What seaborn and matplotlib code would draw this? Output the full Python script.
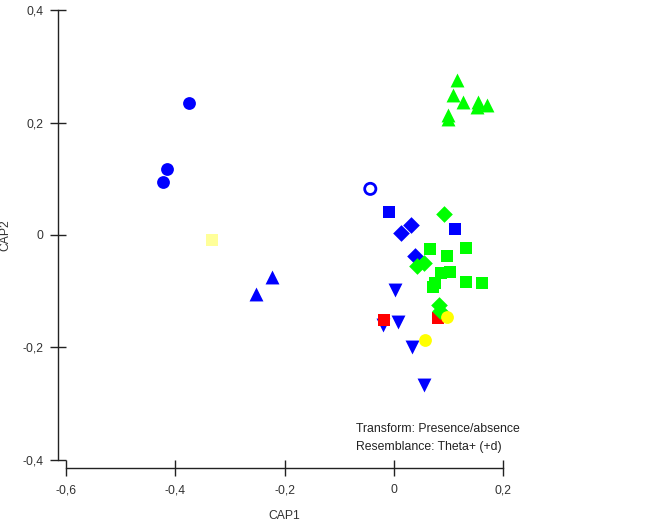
import matplotlib
matplotlib.use("Agg")
import matplotlib.pyplot as plt
import seaborn as sns
import pandas as pd

# CAP ordination scores (CAP1, CAP2) per group
blue_circle_x = [-0.374, -0.415, -0.422]
blue_circle_y = [0.235, 0.117, 0.094]
blue_open_x = [-0.043]
blue_open_y = [0.082]
blue_up_x = [-0.223, -0.252]
blue_up_y = [-0.075, -0.105]
blue_square_x = [-0.009, 0.112]
blue_square_y = [0.041, 0.010]
blue_diamond_x = [0.031, 0.014, 0.039]
blue_diamond_y = [0.018, 0.004, -0.037]
blue_down_x = [0.002, 0.008, -0.020, 0.034, 0.055]
blue_down_y = [-0.098, -0.154, -0.160, -0.199, -0.267]
green_up_x = [0.115, 0.108, 0.127, 0.155, 0.170, 0.152, 0.099, 0.099]
green_up_y = [0.276, 0.249, 0.237, 0.237, 0.232, 0.228, 0.213, 0.206]
green_square_x = [0.066, 0.098, 0.133, 0.087, 0.103, 0.075, 0.071, 0.133, 0.162]
green_square_y = [-0.025, -0.037, -0.023, -0.068, -0.065, -0.086, -0.093, -0.083, -0.086]
green_diamond_x = [0.092, 0.043, 0.055, 0.083, 0.085]
green_diamond_y = [0.038, -0.055, -0.049, -0.124, -0.135]
red_square_x = [-0.018, 0.081]
red_square_y = [-0.151, -0.148]
yellow_circle_x = [0.098, 0.057]
yellow_circle_y = [-0.145, -0.187]
pale_square_x = [-0.332]
pale_square_y = [-0.009]

xtick_vals = [-0.6, -0.4, -0.2, 0, 0.2]
xtick_labels = ["-0,6", "-0,4", "-0,2", "0", "0,2"]
ytick_vals = [-0.4, -0.2, 0, 0.2, 0.4]
ytick_labels = ["-0,4", "-0,2", "0", "0,2", "0,4"]

sns.set_style("ticks")
plt.rcParams['font.family'] = ["Liberation Sans", "DejaVu Sans"]
plt.rcParams['font.size'] = 8.7

fig = plt.figure(figsize=(6.51, 5.21), dpi=100)
ax = fig.add_axes([0.1014, 0.1171, 0.6713, 0.8637])

# drawing order matters where marks overlap
groups = [
    (blue_up_x, blue_up_y, "#0000ff", "^", 100),
    (blue_down_x, blue_down_y, "#0000ff", "v", 100),
    (blue_circle_x, blue_circle_y, "#0000ff", "o", 85),
    (blue_square_x, blue_square_y, "#0000ff", "s", 80),
    (blue_diamond_x, blue_diamond_y, "#0000ff", "D", 72),
    (red_square_x, red_square_y, "#ff0000", "s", 80),
    (green_up_x, green_up_y, "#00ff00", "^", 100),
    (green_square_x, green_square_y, "#00ff00", "s", 80),
    (green_diamond_x, green_diamond_y, "#00ff00", "D", 72),
    (yellow_circle_x, yellow_circle_y, "#ffff00", "o", 85),
    (pale_square_x, pale_square_y, "#ffff99", "s", 80),
]
for gx, gy, col, mk, sz in groups:
    df = pd.DataFrame({"CAP1": gx, "CAP2": gy})
    sns.scatterplot(data=df, x="CAP1", y="CAP2", ax=ax, color=col, marker=mk,
                    s=sz, linewidth=0, legend=False)

df_open = pd.DataFrame({"CAP1": blue_open_x, "CAP2": blue_open_y})
sns.scatterplot(data=df_open, x="CAP1", y="CAP2", ax=ax, marker="o", s=65,
                facecolors="none", edgecolor="#0000ff", linewidth=2, legend=False)

ax.set_xlim(-0.6, 0.2)
ax.set_ylim(-0.4, 0.4)
ax.set_xticks(xtick_vals)
ax.set_xticklabels(xtick_labels)
ax.set_yticks(ytick_vals)
ax.set_yticklabels(ytick_labels)
ax.tick_params(bottom=True, left=True, direction="inout", length=11, width=1,
               color="#222222", labelcolor="#333333")
ax.tick_params(axis="y", pad=5)
ax.tick_params(axis="x", pad=6)
ax.set_xlabel("CAP1", color="#333333", labelpad=10)
ax.set_ylabel("CAP2", color="#333333", labelpad=8)
sns.despine(ax=ax, offset=5.8, trim=True)
for sp in ["left", "bottom"]:
    ax.spines[sp].set_color("#222222")
    ax.spines[sp].set_linewidth(1)

ax.text(-0.07, -0.35, "Transform: Presence/absence", fontsize=8.8, color="#222222")
ax.text(-0.07, -0.383, "Resemblance: Theta+ (+d)", fontsize=8.8, color="#222222")

fig.savefig("out.png", dpi=100)
